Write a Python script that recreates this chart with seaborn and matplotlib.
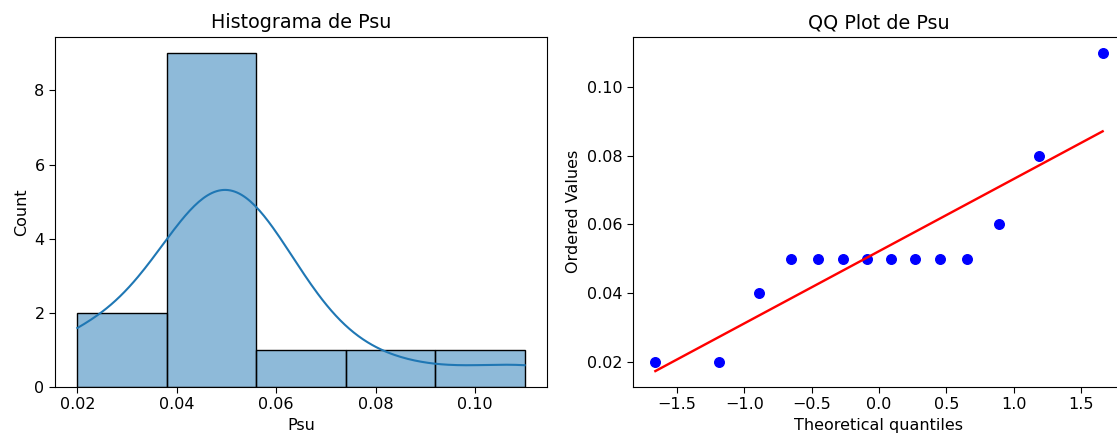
import numpy as np
import pandas as pd
import matplotlib
matplotlib.use("Agg")
import matplotlib.pyplot as plt
import seaborn as sns
from statistics import NormalDist

# Data
psu = [0.02, 0.02, 0.04, 0.05, 0.05, 0.05, 0.05, 0.05, 0.05, 0.05, 0.05, 0.06, 0.08, 0.11]
n_bins = 5

df = pd.DataFrame({"Psu": psu})

s = 1.15
plt.rcParams.update({
    "font.size": 10 * s,
    "axes.titlesize": 12 * s,
    "axes.labelsize": 10 * s,
    "xtick.labelsize": 10 * s,
    "ytick.labelsize": 10 * s,
    "xtick.major.size": 3.5 * s,
    "ytick.major.size": 3.5 * s,
})

W, H = 1117, 437
fig = plt.figure(figsize=(W / 100, H / 100), dpi=100)
ax_w = 492 / W
ax_h = 350.3 / H
ax_b = (H - 387) / H
ax1 = fig.add_axes([55 / W, ax_b, ax_w, ax_h])
ax2 = fig.add_axes([633 / W, ax_b, ax_w, ax_h])

# Histogram with KDE
sns.histplot(data=df, x="Psu", bins=n_bins, kde=True, ax=ax1)
ax1.set_title("Histograma de Psu")

# QQ plot (Filliben order statistic medians, as scipy.stats.probplot)
y = np.sort(np.array(psu))
n = len(y)
m = np.empty(n)
m[-1] = 0.5 ** (1.0 / n)
m[0] = 1 - m[-1]
i = np.arange(2, n)
m[1:-1] = (i - 0.3175) / (n + 0.365)
nd = NormalDist()
osm = np.array([nd.inv_cdf(p) for p in m])
slope, intercept = np.polyfit(osm, y, 1)

ax2.plot(osm, y, "bo", markersize=6 * s)
ax2.plot(osm, slope * osm + intercept, "r-", linewidth=1.5 * s)
ax2.set_title("QQ Plot de Psu")
ax2.set_xlabel("Theoretical quantiles")
ax2.set_ylabel("Ordered Values")

fig.savefig("out.png", dpi=100)
